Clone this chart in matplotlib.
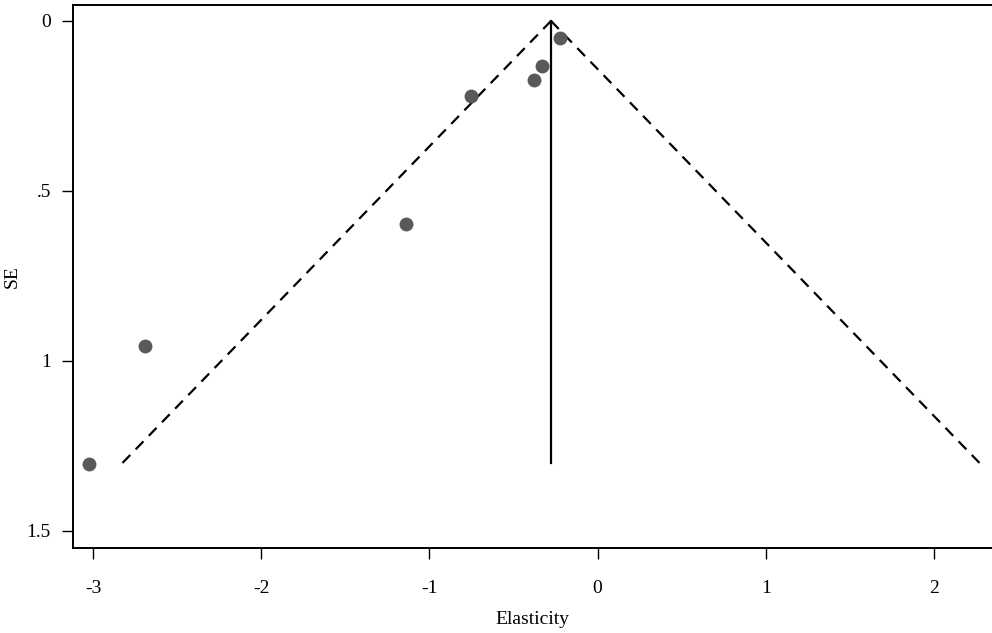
import numpy as np
import matplotlib.pyplot as plt

# Estudios: elasticidad estimada y su error estándar
elasticidad = [-0.226, -0.333, -0.381, -0.75, -1.137, -2.69, -3.024]
se = [0.049, 0.131, 0.174, 0.221, 0.597, 0.956, 1.303]
efecto_comun = -0.277   # estimación combinada
se_max = 1.30           # límite inferior del embudo

plt.rcParams['font.family'] = ['Liberation Serif', 'DejaVu Serif']

fig = plt.figure(figsize=(9.92, 6.33), dpi=100)
ax = fig.add_axes([73 / 992, 1 - 548 / 633, (992 - 73) / 992, (548 - 5) / 633])

# Límites del 95 % alrededor de la estimación combinada
se_linea = np.array([0, se_max])
ax.plot(efecto_comun - 1.96 * se_linea, se_linea, color='black', lw=1.6, ls=(0, (5, 3.5)))
ax.plot(efecto_comun + 1.96 * se_linea, se_linea, color='black', lw=1.6, ls=(0, (5, 3.5)))
ax.plot([efecto_comun, efecto_comun], se_linea, color='black', lw=1.6)

ax.plot(elasticidad, se, 'o', color='#595959', ms=10, mec='none')

ax.set_xlim(-3.119, 2.345)
ax.set_ylim(1.55, -0.047)
ax.set_xticks([-3, -2, -1, 0, 1, 2])
ax.set_xticklabels(['-3', '-2', '-1', '0', '1', '2'])
ax.set_yticks([0, 0.5, 1, 1.5])
ax.set_yticklabels(['0', '.5', '1', '1.5'])
ax.tick_params(direction='out', length=8, width=1, labelsize=14)
ax.tick_params(axis='x', pad=15)
ax.tick_params(axis='y', pad=8)
for s in ['left', 'bottom', 'top']:
    ax.spines[s].set_linewidth(1.4)
ax.spines['right'].set_visible(False)

ax.set_xlabel('Elasticity', fontsize=14, labelpad=10)
ax.set_ylabel('SE', fontsize=14, labelpad=4)

fig.savefig('out.png', dpi=100)
